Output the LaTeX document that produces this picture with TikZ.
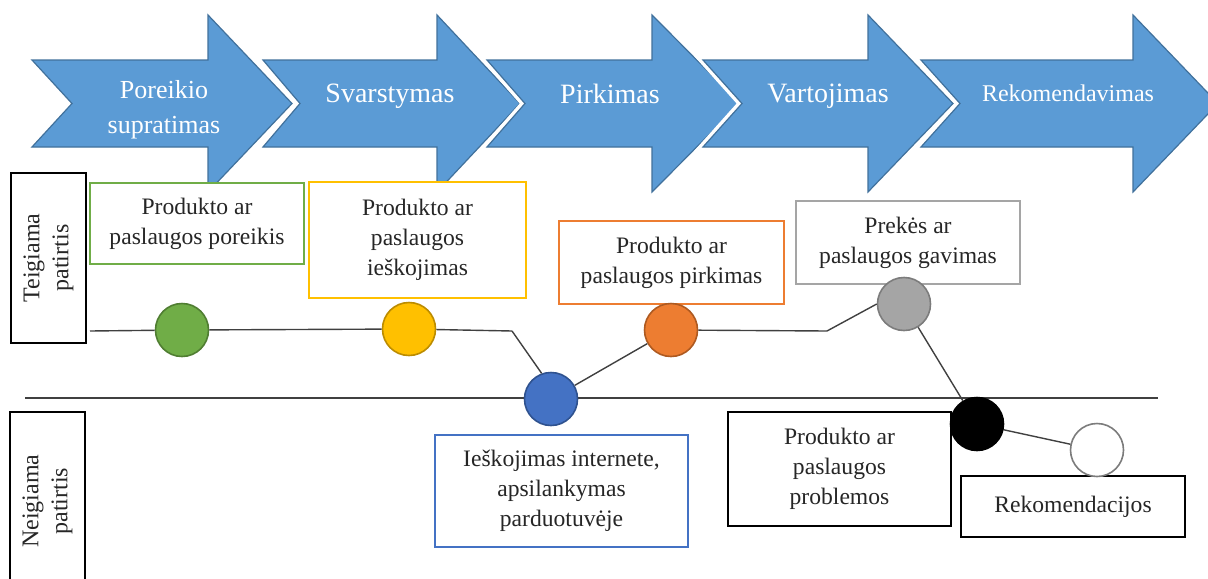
\documentclass[tikz,border=0pt]{standalone}
\usepackage{fontspec}
\setmainfont{Liberation Serif}
\usepackage{tikz}
\usetikzlibrary{positioning}

\definecolor{bleu}{HTML}{5B9BD5}
\definecolor{bleuf}{HTML}{41719C}
\definecolor{vert}{HTML}{70AD47}
\definecolor{vertf}{HTML}{507E32}
\definecolor{jaune}{HTML}{FFC000}
\definecolor{jaunef}{HTML}{BC8C00}
\definecolor{bleuc}{HTML}{4472C4}
\definecolor{bleucf}{HTML}{2F528F}
\definecolor{orangec}{HTML}{ED7D31}
\definecolor{orangef}{HTML}{AE5A21}
\definecolor{gris}{HTML}{A5A5A5}
\definecolor{grisf}{HTML}{7C7C7C}
\definecolor{trait}{HTML}{404040}
\definecolor{texte}{HTML}{262626}

\begin{document}
\begin{tikzpicture}[
			x=0.5pt, y=-0.5pt,
			fleche/.style={fill=bleu, draw=bleuf, line width=0.6pt, preaction={draw=white, line width=4pt}},
			etape/.style={text=white, font=\fontsize{14}{18}\selectfont, align=center, inner sep=0pt},
			case/.style={draw, fill=white, line width=1pt, align=center, inner sep=0pt, text=texte, font=\fontsize{11.8}{15}\selectfont},
			titre/.style={draw=black, line width=1.4pt, rotate=90, align=center, inner sep=0pt, text=texte, font=\fontsize{12}{14.5}\selectfont},
			point/.style={circle, minimum size=26.5pt, inner sep=0pt, line width=0.8pt},
			ligne/.style={draw=trait, line width=0.7pt}
			]
			\useasboundingbox (0,0) rectangle (1208,578);

			% Les flèches
			\draw[fleche] (32,60) -- (208,60) -- (208,15) -- (292,103.5) -- (208,192) -- (208,147) -- (32,147) -- (72,103.5) -- cycle;
			\draw[fleche] (263,60) -- (437,60) -- (437,15) -- (520,103.5) -- (437,192) -- (437,147) -- (263,147) -- (300,103.5) -- cycle;
			\draw[fleche] (487,60) -- (652,60) -- (652,15) -- (740,103.5) -- (652,192) -- (652,147) -- (487,147) -- (525,103.5) -- cycle;
			\draw[fleche] (703,60) -- (868,60) -- (868,15) -- (953,103.5) -- (868,192) -- (868,147) -- (703,147) -- (742,103.5) -- cycle;
			\draw[fleche] (921,60) -- (1133,60) -- (1133,15) -- (1218,103.5) -- (1133,192) -- (1133,147) -- (921,147) -- (960,103.5) -- cycle;

			\node[etape, font=\fontsize{13}{17.5}\selectfont] (poreikis) at (164,110) {Poreikio\\supratimas};
			\node[etape, anchor=base] (svarst) at (390,102) {Svarstymas};
			\node[etape, anchor=base] (pirk) at (610,103) {Pirkimas};
			\node[etape, anchor=base] (vart) at (828,102) {Vartojimas};
			\node[etape, anchor=base, font=\fontsize{12}{15}\selectfont] (rekom) at (1068,101) {Rekomendavimas};

			% Les cases
			\node[titre, minimum width=85pt, minimum height=37.5pt] (teig) at (48.5,258) {Teigiama\\patirtis};
			\node[titre, minimum width=89pt, minimum height=37.5pt] (neig) at (47.5,501) {Neigiama\\patirtis};

			\node[case, draw=vert, minimum width=107pt, minimum height=40.5pt] (bporeikis) at (197,223.5) {Produkto ar\\paslaugos poreikis};
			\node[case, draw=jaune, minimum width=108.5pt, minimum height=58pt] (bieskoj) at (417.5,240) {Produkto ar\\paslaugos\\ieškojimas};
			\node[case, draw=orangec, minimum width=112.5pt, minimum height=41.5pt] (bpirk) at (671.5,262.5) {Produkto ar\\paslaugos pirkimas};
			\node[case, draw=gris, minimum width=112pt, minimum height=41.5pt] (bgav) at (908,242.5) {Prekės ar\\paslaugos gavimas};
			\node[case, draw=bleuc, minimum width=126.5pt, minimum height=56pt] (binter) at (561.5,491) {Ieškojimas internete,\\apsilankymas\\parduotuvėje};
			\node[case, draw=black, line width=1.4pt, minimum width=111.5pt, minimum height=57pt] (bprob) at (839.5,469) {Produkto ar\\paslaugos\\problemos};
			\node[case, draw=black, line width=1.4pt, minimum width=112pt, minimum height=30.5pt] (brekom) at (1073,506.5) {Rekomendacijos};

			% La ligne de partage
			\coordinate (g0) at (25,398);
			\coordinate (g1) at (1158,398);
			\draw[ligne] (g0) -- (g1);

			% Les cercles
			\node[point, fill=vert, draw=vertf] (cv) at (182,330) {};
			\node[point, fill=jaune, draw=jaunef] (cj) at (409,329) {};
			\node[point, fill=bleuc, draw=bleucf] (cb) at (551,399) {};
			\node[point, fill=orangec, draw=orangef] (co) at (671,330) {};
			\node[point, fill=gris, draw=grisf] (cg) at (904,304) {};
			\node[point, fill=black, draw=black] (cn) at (977,424) {};
			\node[point, fill=white, draw=grisf] (cw) at (1097,450) {};

			% Le parcours
			\coordinate (d0) at (90,331);
			\coordinate (d1) at (512,331);
			\coordinate (d2) at (827,331);
			\draw[ligne] (d0) -- (cv);
			\draw[ligne] (cv) -- (cj);
			\draw[ligne] (cj) -- (d1);
			\draw[ligne] (d1) -- (cb.110);
			\draw[ligne] (cb) -- (co);
			\draw[ligne] (co) -- (d2);
			\draw[ligne] (d2) -- (cg.west);
			\draw[ligne] (cg) -- (cn);
			\draw[ligne] (cn) -- (cw);
		\end{tikzpicture}
\end{document}
